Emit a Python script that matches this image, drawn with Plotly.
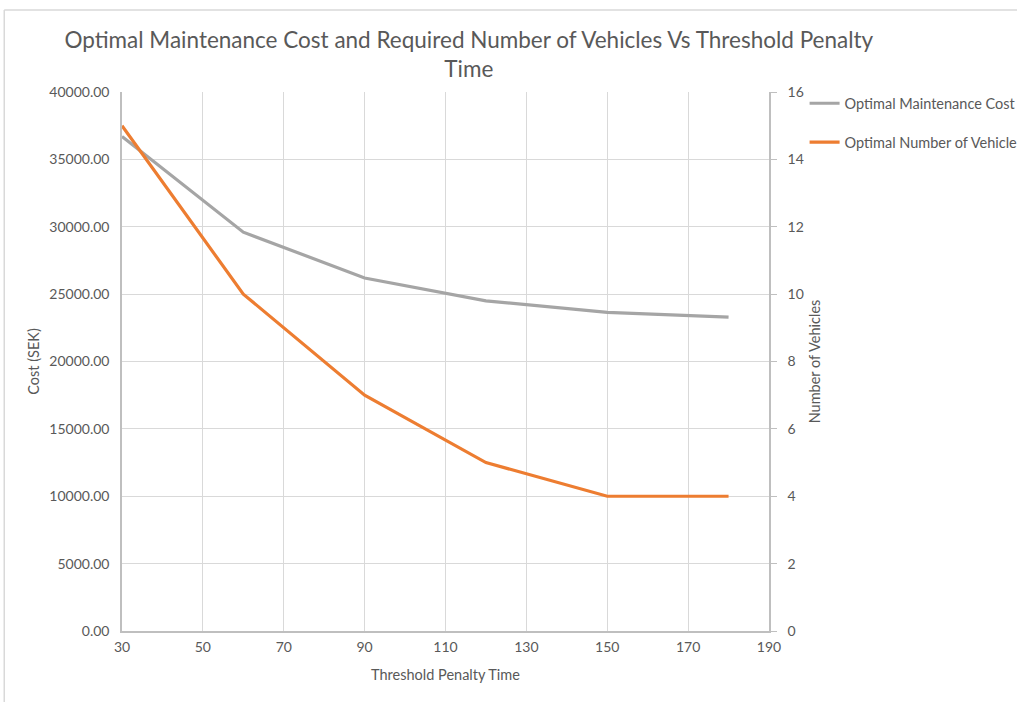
import plotly.graph_objects as go

# Threshold penalty time and model results
penalty_time = [30, 60, 90, 120, 150, 180]
maintenance_cost = [36700, 29600, 26200, 24500, 23650, 23300]
vehicle_count = [15, 10, 7, 5, 4, 4]

FONT = "Lato"
TXT = "#595959"
GRID = "#d9d9d9"
AXIS = "#bfbfbf"

fig = go.Figure()
fig.add_trace(go.Scatter(
    x=penalty_time, y=maintenance_cost, mode="lines",
    name="Optimal Maintenance Cost",
    line=dict(color="#a5a5a5", width=3.2),
    legend="legend",
))
fig.add_trace(go.Scatter(
    x=penalty_time, y=vehicle_count, mode="lines",
    name="Optimal Number of Vehicle",
    line=dict(color="#ed7d31", width=3.2),
    yaxis="y2", legend="legend2",
))

fig.update_layout(
    width=1017, height=702,
    margin=dict(l=122, r=248, t=92, b=71, autoexpand=False),
    paper_bgcolor="white", plot_bgcolor="white",
    font=dict(family=FONT, color=TXT, size=14),
    title=dict(
        text="Optimal Maintenance Cost and Required Number of Vehicles Vs Threshold Penalty<br>Time",
        x=0.461, xref="container", xanchor="center",
        y=0.932, yref="container", yanchor="middle",
        font=dict(size=22.5, color=TXT, family=FONT),
    ),
    xaxis=dict(
        range=[30, 190], dtick=20, tick0=30,
        showgrid=True, gridcolor=GRID, gridwidth=1.4,
        showline=True, linecolor=AXIS, linewidth=1.5,
        ticks="", zeroline=False, ticklabelstandoff=2,
        title=dict(text="Threshold Penalty Time", font=dict(size=14.5, color=TXT), standoff=16),
        tickfont=dict(size=14, color=TXT),
    ),
    yaxis=dict(
        range=[0, 40000], dtick=5000, tickformat=".2f",
        showgrid=True, gridcolor=GRID, gridwidth=1.4,
        showline=True, linecolor=AXIS, linewidth=1.5,
        ticks="", zeroline=False, ticklabelstandoff=8,
        title=dict(text="Cost (SEK)", font=dict(size=14.5, color=TXT), standoff=6),
        tickfont=dict(size=14, color=TXT),
    ),
    yaxis2=dict(
        range=[0, 16], dtick=2, overlaying="y", side="right",
        showgrid=False, showline=True, linecolor=AXIS, linewidth=1.5,
        ticks="outside", ticklen=6, tickcolor=AXIS, zeroline=False,
        ticklabelstandoff=8,
        title=dict(text="Number of Vehicles", font=dict(size=14.5, color=TXT), standoff=7),
        tickfont=dict(size=14, color=TXT),
    ),
    legend=dict(
        x=1.055, y=0.979, xanchor="left", yanchor="middle",
        font=dict(size=14.5, color=TXT), itemwidth=30,
        bgcolor="rgba(0,0,0,0)",
    ),
    legend2=dict(
        x=1.055, y=0.907, xanchor="left", yanchor="middle",
        font=dict(size=14.5, color=TXT), itemwidth=30,
        bgcolor="rgba(0,0,0,0)",
    ),
    showlegend=True,
)

# Chart frame
fig.add_shape(type="line", xref="paper", yref="paper",
              x0=-0.182, x1=1.40, y0=1.152, y1=1.152,
              line=dict(color="#d9d9d9", width=1.5))
fig.add_shape(type="line", xref="paper", yref="paper",
              x0=-0.182, x1=-0.182, y0=1.152, y1=-0.14,
              line=dict(color="#d9d9d9", width=1.5))

fig.write_html("out.html")
